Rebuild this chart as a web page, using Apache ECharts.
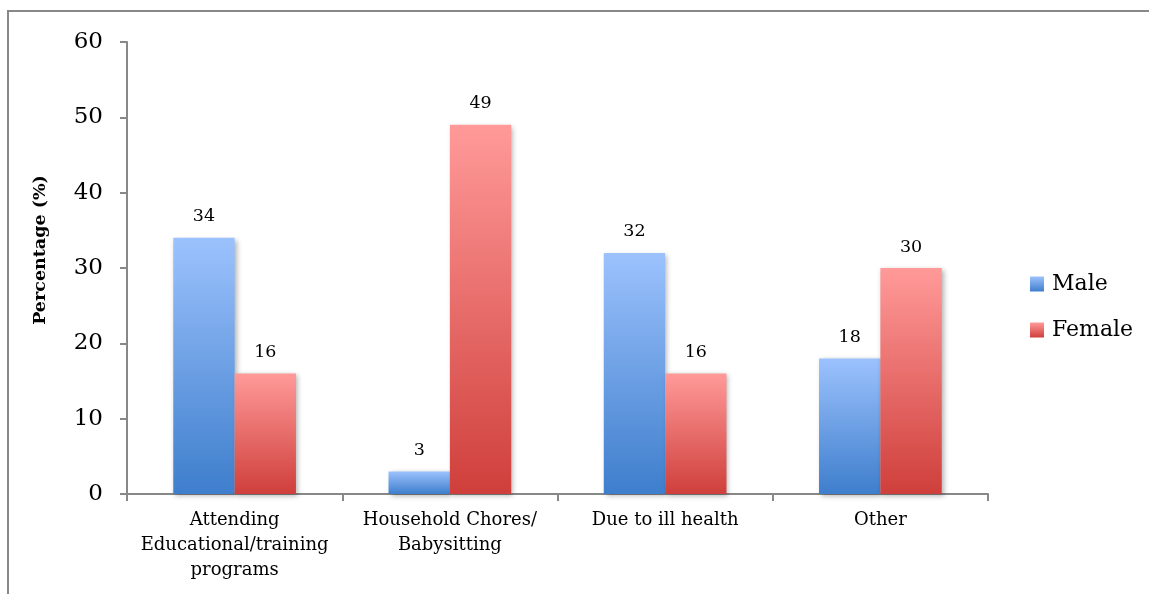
<!DOCTYPE html>
<html>
<head>
<meta charset="utf-8">
<script src="https://cdn.jsdelivr.net/npm/echarts@6/dist/echarts.min.js"></script>
<style>
  html, body { margin: 0; padding: 0; background: #fff; }
  #chart { width: 1149px; height: 594px; }
</style>
</head>
<body>
<div id="chart"></div>
<script>
  const categories = ['Attending\nEducational/training\nprograms', 'Household Chores/\nBabysitting', 'Due to ill health', 'Other']
  const maleValues = [34, 3, 32, 18]
  const femaleValues = [16, 49, 16, 30]
  const seriesNames = ['Male', 'Female']

  const font = 'DejaVu Serif'
  const axisGrey = '#888888'

  function grad (top, bottom) {
    return new echarts.graphic.LinearGradient(0, 0, 0, 1, [
      { offset: 0, color: top },
      { offset: 1, color: bottom }
    ])
  }

  const dom = echarts.init(document.getElementById('chart'))
  const option = {
    backgroundColor: '#fff',
    animation: false,
    textStyle: { fontFamily: font, color: '#000' },
    graphic: [
      {
        type: 'rect',
        shape: { x: 8, y: 11, width: 1200, height: 650 },
        style: { fill: 'none', stroke: axisGrey, lineWidth: 2 }
      },
      {
        type: 'text',
        x: 40,
        y: 250,
        rotation: Math.PI / 2,
        style: {
          text: 'Percentage (%)',
          font: 'bold 17.5px ' + font,
          fill: '#000',
          align: 'center',
          verticalAlign: 'middle'
        }
      }
    ],
    grid: {
      left: 127,
      right: 161,
      top: 42,
      bottom: 100
    },
    legend: {
      orient: 'vertical',
      left: 1025,
      top: 268,
      icon: 'rect',
      itemWidth: 14,
      itemHeight: 15,
      itemGap: 24,
      textStyle: { fontFamily: font, fontSize: 22, color: '#000', padding: [0, 0, 0, 3] },
      data: seriesNames
    },
    xAxis: {
      type: 'category',
      data: categories,
      axisLine: { lineStyle: { color: axisGrey, width: 2 } },
      axisTick: { show: true, length: 7, lineStyle: { color: axisGrey, width: 2 } },
      axisLabel: {
        fontFamily: font,
        fontSize: 18,
        color: '#000',
        lineHeight: 25,
        margin: 14,
        interval: 0
      }
    },
    yAxis: {
      type: 'value',
      min: 0,
      max: 60,
      interval: 10,
      splitLine: { show: false },
      axisLine: { show: true, lineStyle: { color: axisGrey, width: 2 } },
      axisTick: { show: true, length: 7, lineStyle: { color: axisGrey, width: 2 } },
      axisLabel: { fontFamily: font, fontSize: 23, color: '#000', margin: 24 }
    },
    series: [
      {
        name: seriesNames[0],
        type: 'bar',
        data: maleValues,
        barGap: '0%',
        barCategoryGap: '43%',
        itemStyle: {
          color: grad('#9cc2fd', '#3e7ecc'),
          shadowColor: 'rgba(0,0,0,0.3)',
          shadowBlur: 5,
          shadowOffsetX: 2,
          shadowOffsetY: 2
        },
        label: { show: true, position: 'top', distance: 12, fontFamily: font, fontSize: 17.5, color: '#000' }
      },
      {
        name: seriesNames[1],
        type: 'bar',
        data: femaleValues,
        itemStyle: {
          color: grad('#ff9a99', '#cf3f3b'),
          shadowColor: 'rgba(0,0,0,0.3)',
          shadowBlur: 5,
          shadowOffsetX: 2,
          shadowOffsetY: 2
        },
        label: { show: true, position: 'top', distance: 12, fontFamily: font, fontSize: 17.5, color: '#000' }
      }
    ]
  }
  dom.setOption(option)
  window.addEventListener('resize', () => dom.resize())
</script>
</body>
</html>
